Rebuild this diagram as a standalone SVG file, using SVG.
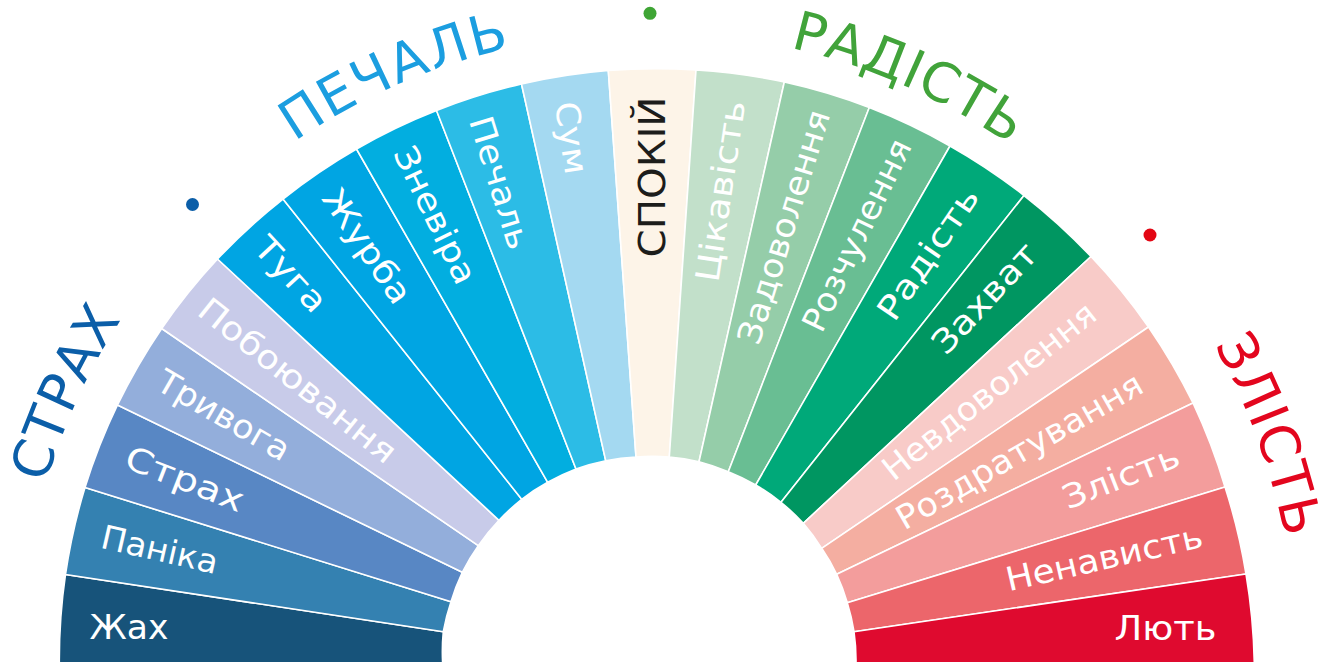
<svg xmlns="http://www.w3.org/2000/svg" xmlns:xlink="http://www.w3.org/1999/xlink" width="1327" height="662" viewBox="0 0 1327 662">
<style>
.seg{stroke:#ffffff;stroke-width:1.6;stroke-linejoin:round}
.lbl{font-family:"DejaVu Sans","Open Sans",sans-serif;font-size:33px;fill:#ffffff;text-anchor:middle}
.calm{font-family:"DejaVu Sans","Open Sans",sans-serif;font-size:38px;fill:#1d1d1b;text-anchor:middle}
.ttl{font-family:"DejaVu Sans","Open Sans",sans-serif;font-size:54px;text-anchor:middle}
</style>
<defs>
<path id="arc" d="M 20 662 A 630 630 0 0 1 1280 662"/>
<path id="arc2" d="M 3 662 A 647 647 0 0 1 1297 662"/>
</defs>
<rect width="1327" height="662" fill="#ffffff"/>
<g id="connectors"/>
<g id="seg-zhakh"><path class="seg" fill="#17537a" d="M442.7 664 L59.3 664 A596 596 0 0 1 65.5 574.5 L443.3 631.7 A207 207 0 0 0 442.7 664 Z"/><text class="lbl" transform="translate(129 639)" textLength="79" lengthAdjust="spacingAndGlyphs">Жах</text></g>
<g id="seg-panika"><path class="seg" fill="#3481b1" d="M443.3 631.7 L65.5 574.5 A596 596 0 0 1 85 487.5 L451 601.7 A207 207 0 0 0 443.3 631.7 Z"/><text class="lbl" transform="translate(157.2 560.8) rotate(12.86)" textLength="119" lengthAdjust="spacingAndGlyphs">Паніка</text></g>
<g id="seg-strakh"><path class="seg" fill="#5887c4" d="M451 601.7 L85 487.5 A596 596 0 0 1 117.5 405 L462.3 572.3 A207 207 0 0 0 451 601.7 Z"/><text class="lbl" transform="translate(180.6 489.5) rotate(21.43)" textLength="125" lengthAdjust="spacingAndGlyphs">Страх</text></g>
<g id="seg-tryvoha"><path class="seg" fill="#93aedb" d="M462.3 572.3 L117.5 405 A596 596 0 0 1 161.7 328.5 L478.3 545.7 A207 207 0 0 0 462.3 572.3 Z"/><text class="lbl" transform="translate(218 425.2) rotate(30)" textLength="148" lengthAdjust="spacingAndGlyphs">Тривога</text></g>
<g id="seg-poboiuvannia"><path class="seg" fill="#c8cbe9" d="M478.3 545.7 L161.7 328.5 A596 596 0 0 1 217.5 259 L499 520.3 A207 207 0 0 0 478.3 545.7 Z"/><text class="lbl" transform="translate(290.5 389.4) rotate(38.57)" textLength="243" lengthAdjust="spacingAndGlyphs">Побоювання</text></g>
<g id="seg-tuha"><path class="seg" fill="#00a5e3" d="M499 520.3 L217.5 259 A596 596 0 0 1 283 199 L521.7 499.3 A207 207 0 0 0 499 520.3 Z"/><text class="lbl" transform="translate(282.4 282.1) rotate(47.14)" textLength="90" lengthAdjust="spacingAndGlyphs">Туга</text></g>
<g id="seg-zhurba"><path class="seg" fill="#00a5e3" d="M521.7 499.3 L283 199 A596 596 0 0 1 356.5 149 L547.7 482.3 A207 207 0 0 0 521.7 499.3 Z"/><text class="lbl" transform="translate(357.6 252.6) rotate(55.71)" textLength="131" lengthAdjust="spacingAndGlyphs">Журба</text></g>
<g id="seg-znevira"><path class="seg" fill="#02aee0" d="M547.7 482.3 L356.5 149 A596 596 0 0 1 436.5 110.5 L576 469 A207 207 0 0 0 547.7 482.3 Z"/><text class="lbl" transform="translate(424.9 219.9) rotate(64.29)" textLength="149" lengthAdjust="spacingAndGlyphs">Зневіра</text></g>
<g id="seg-pechal"><path class="seg" fill="#2cbce6" d="M576 469 L436.5 110.5 A596 596 0 0 1 521.5 84 L605.7 460.7 A207 207 0 0 0 576 469 Z"/><text class="lbl" transform="translate(489 186) rotate(72.86)" textLength="137" lengthAdjust="spacingAndGlyphs">Печаль</text></g>
<g id="seg-sum"><path class="seg" fill="#a4d9f1" d="M605.7 460.7 L521.5 84 A596 596 0 0 1 608.3 70.5 L636 457 A207 207 0 0 0 605.7 460.7 Z"/><text class="lbl" transform="translate(560.1 139.5) rotate(81.43)" textLength="73" lengthAdjust="spacingAndGlyphs">Сум</text></g>
<g id="seg-spokii"><path class="seg" fill="#fdf4e8" d="M636 457 L608.3 70.5 A596 596 0 0 1 696 70 L669.3 457 A207 207 0 0 0 636 457 Z"/><text class="calm" transform="translate(665 177) rotate(-90)" textLength="161" lengthAdjust="spacingAndGlyphs">СПОКІЙ</text></g>
<g id="seg-tsikavist"><path class="seg" fill="#c2e0ca" d="M669.3 457 L696 70 A596 596 0 0 1 784.3 82 L699 461.7 A207 207 0 0 0 669.3 457 Z"/><text class="lbl" transform="translate(731.8 192.9) rotate(-81.43)" textLength="183" lengthAdjust="spacingAndGlyphs">Цікавість</text></g>
<g id="seg-zadovolennia"><path class="seg" fill="#95cda9" d="M699 461.7 L784.3 82 A596 596 0 0 1 869.3 107.5 L728.3 471.7 A207 207 0 0 0 699 461.7 Z"/><text class="lbl" transform="translate(794.6 230.4) rotate(-72.86)" textLength="243" lengthAdjust="spacingAndGlyphs">Задоволення</text></g>
<g id="seg-rozchulennia"><path class="seg" fill="#69be93" d="M728.3 471.7 L869.3 107.5 A596 596 0 0 1 950 146 L755.7 485 A207 207 0 0 0 728.3 471.7 Z"/><text class="lbl" transform="translate(867 240) rotate(-64.29)" textLength="209" lengthAdjust="spacingAndGlyphs">Розчулення</text></g>
<g id="seg-radist"><path class="seg" fill="#00a979" d="M755.7 485 L950 146 A596 596 0 0 1 1024 195.5 L781 502.3 A207 207 0 0 0 755.7 485 Z"/><text class="lbl" transform="translate(937.4 260) rotate(-55.71)" textLength="153" lengthAdjust="spacingAndGlyphs">Радість</text></g>
<g id="seg-zakhvat"><path class="seg" fill="#009661" d="M781 502.3 L1024 195.5 A596 596 0 0 1 1091 256.5 L803.3 523.3 A207 207 0 0 0 781 502.3 Z"/><text class="lbl" transform="translate(993 306) rotate(-47.14)" textLength="138" lengthAdjust="spacingAndGlyphs">Захват</text></g>
<g id="seg-nevdovolennia"><path class="seg" fill="#f8cbc8" d="M803.3 523.3 L1091 256.5 A596 596 0 0 1 1148.5 327 L821.7 548.3 A207 207 0 0 0 803.3 523.3 Z"/><text class="lbl" transform="translate(996.2 400) rotate(-38.57)" textLength="263" lengthAdjust="spacingAndGlyphs">Невдоволення</text></g>
<g id="seg-rozdratuvannia"><path class="seg" fill="#f4aea1" d="M821.7 548.3 L1148.5 327 A596 596 0 0 1 1193 403 L836.7 574.3 A207 207 0 0 0 821.7 548.3 Z"/><text class="lbl" transform="translate(1025 461) rotate(-30)" textLength="279" lengthAdjust="spacingAndGlyphs">Роздратування</text></g>
<g id="seg-zlist"><path class="seg" fill="#f39d9c" d="M836.7 574.3 L1193 403 A596 596 0 0 1 1225 487 L847.3 602.7 A207 207 0 0 0 836.7 574.3 Z"/><text class="lbl" transform="translate(1125 487.3) rotate(-21.43)" textLength="123" lengthAdjust="spacingAndGlyphs">Злість</text></g>
<g id="seg-nenavyst"><path class="seg" fill="#ec666b" d="M847.3 602.7 L1225 487 A596 596 0 0 1 1246 574 L854 631.7 A207 207 0 0 0 847.3 602.7 Z"/><text class="lbl" transform="translate(1106.7 569) rotate(-12.86)" textLength="201" lengthAdjust="spacingAndGlyphs">Ненависть</text></g>
<g id="seg-liut"><path class="seg" fill="#df0a2f" d="M854 631.7 L1246 574 A596 596 0 0 1 1254.3 664 L856 664 A207 207 0 0 0 854 631.7 Z"/><text class="lbl" transform="translate(1165.5 640)" textLength="102" lengthAdjust="spacingAndGlyphs">Лють</text></g>
<g id="title-strakh"><text class="ttl" fill="#0b5ea8" letter-spacing="1"><textPath xlink:href="#arc" href="#arc" startOffset="272">СТРАХ</textPath></text></g>
<g id="title-pechal"><text class="ttl" fill="#1b9ee0" letter-spacing="2"><textPath xlink:href="#arc" href="#arc" startOffset="731">ПЕЧАЛЬ</textPath></text></g>
<g id="title-radist"><text class="ttl" fill="#41a33a" letter-spacing="1"><textPath xlink:href="#arc" href="#arc" startOffset="1252">РАДІСТЬ</textPath></text></g>
<g id="title-zlist"><text class="ttl" fill="#e3061e" letter-spacing="1.5"><textPath xlink:href="#arc2" href="#arc2" startOffset="1805">ЗЛІСТЬ</textPath></text></g>
<g id="dot-blue"><circle cx="192.5" cy="204.5" r="6.5" fill="#0b5ea8"/></g>
<g id="dot-green"><circle cx="650" cy="13.3" r="6.5" fill="#3fa535"/></g>
<g id="dot-red"><circle cx="1150" cy="235" r="6.5" fill="#e30613"/></g>
</svg>
